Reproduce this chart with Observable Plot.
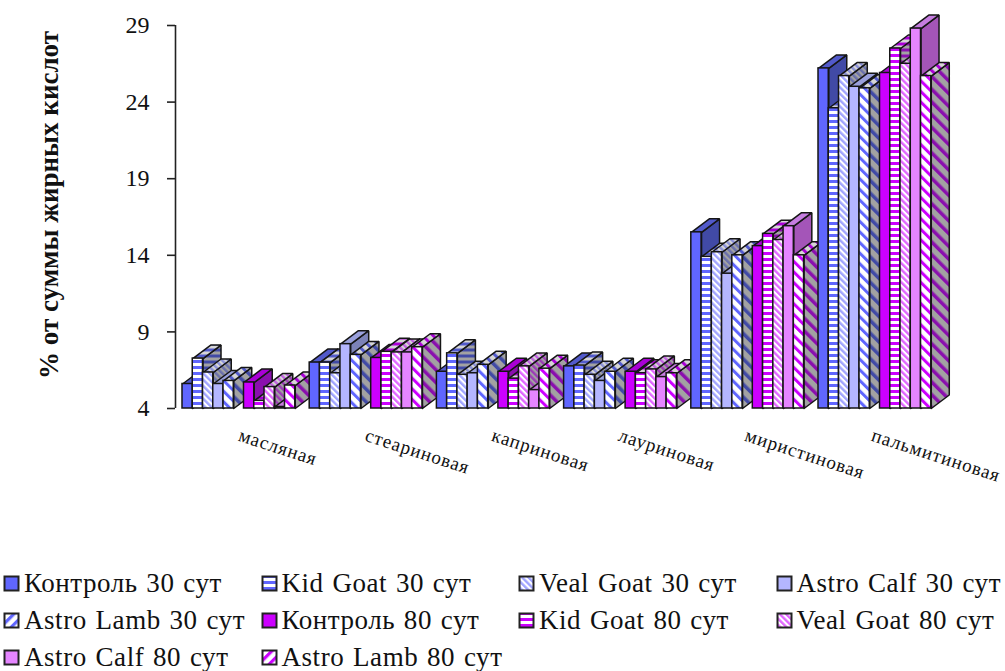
<!DOCTYPE html>
<html lang="ru">
<head>
<meta charset="utf-8">
<script src="https://cdn.jsdelivr.net/npm/d3@7"></script>
<script src="https://cdn.jsdelivr.net/npm/@observablehq/plot@0.6"></script>
<style>
  html, body { margin: 0; padding: 0; background: #fff; }
  body { width: 1005px; height: 671px; overflow: hidden; font-family: "Liberation Serif", serif; color: #111; }
  #legend { display: grid; grid-template-columns: repeat(4, 257.5px); grid-auto-rows: 37px; padding-left: 3px; }
  #legend .item { display: flex; align-items: center; font-size: 27px; letter-spacing: 0.55px; word-spacing: 1.5px; white-space: nowrap; }
  #legend svg { width: 17px; height: 17px; margin-right: 4px; flex: none; display: block; }
  .acid-labels text { letter-spacing: 0.85px; }
</style>
</head>
<body>
<div id="chart"></div>
<div id="legend"></div>
<script>
const categories = ["масляная", "стеариновая", "каприновая", "лауриновая", "миристиновая", "пальмитиновая"];
const seriesNames = [
  "Контроль 30 сут", "Kid Goat 30 сут", "Veal Goat 30 сут", "Astro Calf 30 сут", "Astro Lamb 30 сут",
  "Контроль 80 сут", "Kid Goat 80 сут", "Veal Goat 80 сут", "Astro Calf 80 сут", "Astro Lamb 80 сут"
];
const yTicks = [4, 9, 14, 19, 24, 29];

// Share of total fatty acids, %, one array per series across the six acids
const control30 = [5.6, 7.0, 6.4, 6.75, 15.5, 26.2];
const kidGoat30 = [7.26, 7.0, 7.6, 6.8, 13.9, 23.6];
const vealGoat30 = [6.35, 6.3, 6.2, 6.2, 14.2, 25.7];
const astroCalf30 = [5.6, 8.2, 6.3, 5.8, 12.8, 25.0];
const astroLamb30 = [5.8, 7.5, 6.85, 6.4, 14.0, 24.9];
const control80 = [5.7, 7.3, 6.4, 6.4, 14.6, 25.9];
const kidGoat80 = [4.5, 7.7, 5.95, 6.3, 15.4, 27.5];
const vealGoat80 = [5.4, 7.66, 6.75, 6.55, 15.0, 26.5];
const astroCalf80 = [4.1, 7.66, 5.2, 6.05, 15.9, 28.8];
const astroLamb80 = [5.5, 8.0, 6.6, 6.3, 14.0, 25.7];
const seriesValues = [
  control30, kidGoat30, vealGoat30, astroCalf30, astroLamb30,
  control80, kidGoat80, vealGoat80, astroCalf80, astroLamb80
];

// Colours for the two ageing periods: front, side and top shades
const blueShades = {front: "#6066ff", side: "#414aa6", top: "#525acb"};
const magentaShades = {front: "#cc00ff", side: "#8a0fae", top: "#a900d6"};
const whiteShades = {front: "#ffffff", side: "#a2a2a2", top: "#d6d6d6"};
const softBlue = {front: "#a0a4ff", side: "#6a70ac", top: "#8a90d8"};
const softMagenta = {front: "#e066ff", side: "#9c3cb6", top: "#c060e0"};
const calfShades = {
  blue: {front: "#b4b6ff", side: "#7c82b8", top: "#9aa0dc"},
  magenta: {front: "#e585ff", side: "#a455b8", top: "#c67de0"}
};
const hatchKinds = ["solid", "rows", "fine", "dots", "wide"];
const faces = ["front", "side", "top"];

// Hatch patterns live in a shared defs block, referenced by both the bars and the legend
function stripes(defs, id, size, angle, band, bg, fg) {
  const p = defs.append("pattern").attr("id", id).attr("patternUnits", "userSpaceOnUse")
    .attr("width", size).attr("height", size).attr("patternTransform", `rotate(${angle})`);
  p.append("rect").attr("width", size).attr("height", size).attr("fill", bg);
  p.append("rect").attr("width", band).attr("height", size).attr("fill", fg);
}
function flat(defs, id, c) {
  const p = defs.append("pattern").attr("id", id).attr("patternUnits", "userSpaceOnUse")
    .attr("width", 2).attr("height", 2);
  p.append("rect").attr("width", 2).attr("height", 2).attr("fill", c);
}
function patternDefs() {
  const defs = d3.create("svg:defs");
  seriesValues.forEach((_, s) => {
    const kind = hatchKinds[s % 5];
    const shades = s < 5 ? blueShades : magentaShades;
    const soft = s < 5 ? softBlue : softMagenta;
    const calf = s < 5 ? calfShades.blue : calfShades.magenta;
    for (const f of faces) {
      const id = `hatch-${s}-${f}`;
      if (kind === "rows") stripes(defs, id, 6, 90, 3, whiteShades[f], shades[f]);
      if (kind === "fine") stripes(defs, id, 4.5, -45, 2.4, whiteShades[f], soft[f]);
      if (kind === "dots") flat(defs, id, calf[f]);
      if (kind === "wide") stripes(defs, id, f === "side" ? 9 : 7.5, -45, f === "side" ? 3.5 : 3, whiteShades[f], shades[f]);
    }
    if (kind === "wide") stripes(defs, `hatch-${s}-swatch`, 7.5, 45, 3.2, whiteShades.front, shades.front);
  });
  return defs.node();
}
function faceFill(s, f) {
  if (hatchKinds[s % 5] === "solid") return (s < 5 ? blueShades : magentaShades)[f];
  return `url(#hatch-${s}-${f})`;
}

// Layout of a bar inside its category, in category widths and in percent
const barWidth = 0.0806;
const groupStart = [0.055, 0.5385];
const depthX = 0.1415;
const depthY = 0.88;
const baseValue = 4;
const labelOffset = 0.487;
const labelStep = 0.995;

// One bar: side and top as polygons, then the front, painted back to front
function barMarks(c, s) {
  const v = seriesValues[s][c];
  const x0 = c + groupStart[s < 5 ? 0 : 1] + (s % 5) * barWidth;
  const x1 = x0 + barWidth;
  const line = {x: (d) => d[0], y: (d) => d[1], stroke: "#151515", strokeWidth: 1.5, strokeLinejoin: "miter"};
  return [
    Plot.line(
      [[x1, baseValue], [x1 + depthX, baseValue + depthY], [x1 + depthX, v + depthY], [x1, v], [x1, baseValue]],
      {...line, fill: faceFill(s, "side")}
    ),
    Plot.line(
      [[x0, v], [x1, v], [x1 + depthX, v + depthY], [x0 + depthX, v + depthY], [x0, v]],
      {...line, fill: faceFill(s, "top")}
    ),
    Plot.rect([{x0, x1, v}], {
      x1: "x0", x2: "x1", y1: () => baseValue, y2: "v",
      fill: faceFill(s, "front"), stroke: "#151515", strokeWidth: 1.5
    })
  ];
}

const chart = Plot.plot({
  width: 1005,
  height: 565,
  marginLeft: 175,
  marginRight: 0,
  marginTop: 25,
  marginBottom: 157,
  style: {fontFamily: "Liberation Serif, serif", background: "#fff", color: "#111"},
  x: {type: "linear", domain: [0, 6.525], axis: null},
  y: {type: "linear", domain: [4, 29], axis: null},
  marks: [
    patternDefs,
    Plot.ruleX([0], {y1: 4, y2: 29, stroke: "#222", strokeWidth: 1.6}),
    Plot.axisY({
      ticks: yTicks, tickSize: 8, tickPadding: 18, fontSize: 24, stroke: "#222", strokeWidth: 1.6,
      tickFormat: (d) => String(d), label: null
    }),
    ...categories.flatMap((_, c) => seriesNames.flatMap((_, s) => barMarks(c, s))),
    Plot.text(categories, {
      x: (_, i) => i * labelStep + labelOffset,
      frameAnchor: "bottom",
      dy: 32,
      text: (d) => d,
      rotate: 18,
      textAnchor: "start",
      fontSize: 19,
      fill: "#111",
      className: "acid-labels"
    }),
    Plot.text(["% от суммы жирных кислот"], {
      frameAnchor: "left",
      dx: -126,
      dy: -12,
      text: (d) => d,
      rotate: -90,
      textAnchor: "middle",
      fontSize: 27,
      fontWeight: "bold",
      fill: "#111"
    })
  ]
});
document.getElementById("chart").append(chart);

// Legend swatches reuse the chart's hatch patterns
const legend = d3.select("#legend");
seriesNames.forEach((name, s) => {
  const item = legend.append("div").attr("class", "item");
  const sw = item.append("svg").attr("viewBox", "0 0 17 17");
  const fill = hatchKinds[s % 5] === "wide" ? `url(#hatch-${s}-swatch)` : faceFill(s, "front");
  sw.append("rect").attr("x", 1.5).attr("y", 1.5).attr("width", 14).attr("height", 14)
    .attr("fill", fill).attr("stroke", "#222").attr("stroke-width", 2);
  item.append("span").text(name);
});
</script>
</body>
</html>
